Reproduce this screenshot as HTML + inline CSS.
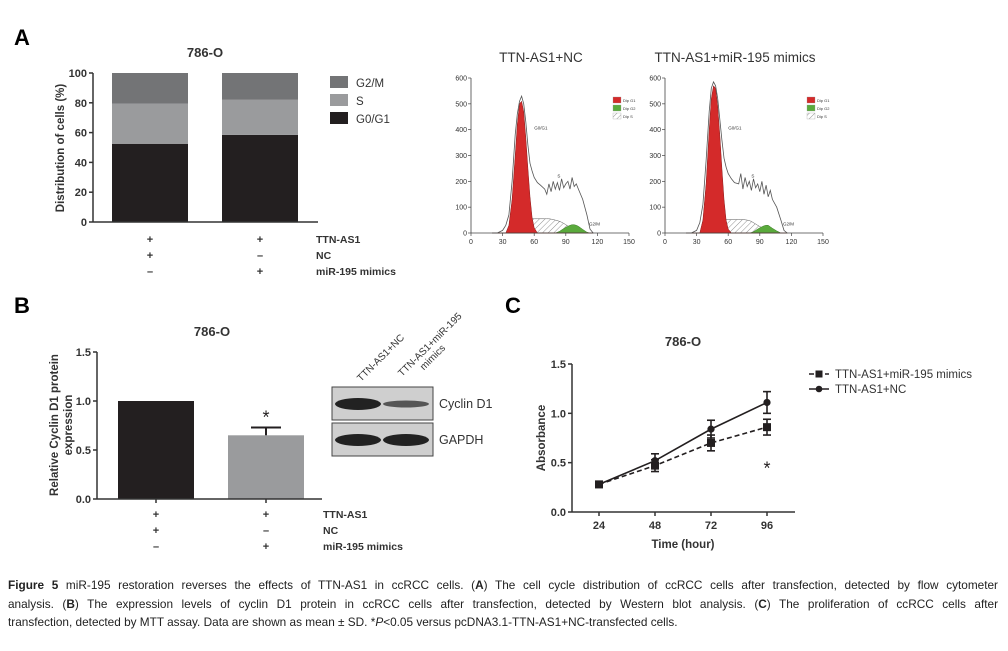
<!DOCTYPE html>
<html><head><meta charset="utf-8"><style>
body{margin:0;background:#fff;width:1008px;height:651px;overflow:hidden;font-family:"Liberation Sans",sans-serif}
#cap{position:absolute;left:8px;top:576px;width:990px;font-size:11.8px;line-height:18.5px;color:#222}
#cap div{text-align:justify;text-align-last:justify;white-space:nowrap}
#cap div.last{text-align-last:left}
svg text{font-family:"Liberation Sans",sans-serif}
</style></head><body>
<svg id="fig" width="1008" height="651" style="position:absolute;left:0;top:0">
<g id="A"></g><g id="F"></g><g id="B"></g><g id="C"></g>
</svg>
<div id="cap">
<div style="white-space:normal"><b>Figure 5</b> miR-195 restoration reverses the effects of TTN-AS1 in ccRCC cells. (<b>A</b>) The cell cycle distribution of ccRCC cells after transfection, detected by flow cytometer</div>
<div style="white-space:normal">analysis. (<b>B</b>) The expression levels of cyclin D1 protein in ccRCC cells after transfection, detected by Western blot analysis. (<b>C</b>) The proliferation of ccRCC cells after</div>
<div class="last">transfection, detected by MTT assay. Data are shown as mean ± SD. *<i>P</i>&lt;0.05 versus pcDNA3.1-TTN-AS1+NC-transfected cells.</div>
</div>
<script>
// Panel A data
const aGroups=["TTN-AS1+NC","TTN-AS1+miR-195 mimics"];
const aG1=[52.5,58.5];
const aS=[27,23.5];
const aG2M=[20.5,18];
const aTicks=[0,20,40,60,80,100];
// Panel B data
const bValues=[1.0,0.65];
const bErr=[0,0.08];
const bTicks=[0,0.5,1.0,1.5];
// Panel C data
const cHours=[24,48,72,96];
const cNC=[0.28,0.52,0.84,1.11];
const cNCerr=[0.03,0.07,0.09,0.11];
const cMim=[0.28,0.47,0.70,0.86];
const cMimErr=[0.03,0.06,0.08,0.08];
const cTicks=[0,0.5,1.0,1.5];
// Flow histogram data (channel, count)
const fChan=[20,25,30,33,36,39,42,44,46,48,50,52,54,56,58,60,63,66,70,72,74,76,78,80,82,84,86,88,90,92,94,96,98,100,102,106,110,113,116];
const fNCTotal=[0,0,10,30,70,200,380,460,510,530,500,430,340,270,240,215,195,185,170,150,190,160,200,170,195,165,210,175,190,200,170,215,180,190,170,130,70,15,0];
const fMimTotal=[0,0,10,40,110,280,470,560,585,570,520,440,360,290,255,230,210,195,190,230,170,215,180,200,165,210,175,190,160,200,150,185,140,165,130,100,50,10,0];
const fNCG1=[0,0,0,0,30,130,300,420,500,510,470,370,250,140,60,20,0,0,0,0,0,0,0,0,0,0,0,0,0,0,0,0,0,0,0,0,0,0,0];
const fMimG1=[0,0,0,0,50,190,400,520,570,560,490,380,250,130,50,15,0,0,0,0,0,0,0,0,0,0,0,0,0,0,0,0,0,0,0,0,0,0,0];
const fNCS=[0,0,0,0,0,0,0,5,15,30,45,55,55,55,55,55,55,55,55,55,55,54,52,50,48,45,42,37,32,27,22,17,12,8,5,0,0,0,0];
const fMimS=[0,0,0,0,0,0,0,5,15,30,45,52,52,52,52,52,52,52,52,52,52,51,50,48,45,40,35,30,25,20,15,11,8,5,3,0,0,0,0];
const fNCG2=[0,0,0,0,0,0,0,0,0,0,0,0,0,0,0,0,0,0,0,0,0,0,0,0,3,6,12,17,22,26,30,32,32,30,26,14,3,0,0];
const fMimG2=[0,0,0,0,0,0,0,0,0,0,0,0,0,0,0,0,0,0,0,0,0,0,0,0,2,5,10,15,20,24,28,30,30,24,18,8,0,0,0];
const fXTicks=[0,30,60,90,120,150];
const fYTicks=[0,100,200,300,400,500,600];

const NS="http://www.w3.org/2000/svg";
function mk(p,tag,attrs,txt){const e=document.createElementNS(NS,tag);for(const k in attrs)e.setAttribute(k,attrs[k]);if(txt!==undefined)e.textContent=txt;p.appendChild(e);return e;}
const svg=document.getElementById('fig');
const defs=mk(svg,'defs',{});
const pat=mk(defs,'pattern',{id:'hatch',width:4,height:4,patternUnits:'userSpaceOnUse',patternTransform:'rotate(45)'});
mk(pat,'line',{x1:0,y1:0,x2:0,y2:4,stroke:'#777','stroke-width':0.8});

// ---------- Panel A ----------
const A=document.getElementById('A');
let t=mk(A,'text',{x:14,y:45,'font-size':22,'font-weight':'bold'},'A');

t=mk(A,'text',{x:205,y:57,'font-size':13,'font-weight':'bold','text-anchor':'middle',fill:'#333'},'786-O');

const aX0=93,aY0=222,aY1=73;
const ay=v=>aY0-(v/100)*(aY0-aY1);
const aBarX=[112,222],aBarW=76;
aGroups.forEach((g,i)=>{
  const segs=[[0,aG1[i],'#231f20','g0g1'],[aG1[i],aG1[i]+aS[i],'#9a9b9d','s'],[aG1[i]+aS[i],aG1[i]+aS[i]+aG2M[i],'#737476','g2m']];
  segs.forEach(s=>{const r=mk(A,'rect',{x:aBarX[i],y:ay(s[1]),width:aBarW,height:ay(s[0])-ay(s[1]),fill:s[2]});
    });
});
mk(A,'line',{x1:aX0,y1:aY1,x2:aX0,y2:aY0,stroke:'#333','stroke-width':1.5});
mk(A,'line',{x1:aX0,y1:aY0,x2:318,y2:aY0,stroke:'#333','stroke-width':1.5});
aTicks.forEach(v=>{mk(A,'line',{x1:aX0-4,y1:ay(v),x2:aX0,y2:ay(v),stroke:'#333','stroke-width':1.5});
  const tt=mk(A,'text',{x:aX0-6,y:ay(v)+4,'font-size':11,'font-weight':'bold','text-anchor':'end',fill:'#333'},v);
  });
t=mk(A,'text',{transform:'translate(64,148) rotate(-90)','font-size':11.5,'font-weight':'bold','text-anchor':'middle',fill:'#333'},'Distribution of cells (%)');

[['G2/M','#737476'],['S','#9a9b9d'],['G0/G1','#231f20']].forEach((l,i)=>{
  const g=mk(A,'g',{});
  mk(g,'rect',{x:330,y:76+i*18,width:18,height:12,fill:l[1]});
  mk(g,'text',{x:356,y:87+i*18,'font-size':11.5,fill:'#333'},l[0]);});
function condRows(p,xs,y0,rows){
  rows.forEach((r,j)=>{r[0].forEach((s,i)=>mk(p,'text',{x:xs[i],y:y0+j*16,'font-size':11,'font-weight':'bold','text-anchor':'middle',fill:'#333'},s));
    const lt=mk(p,'text',{x:r[2],y:y0+j*16,'font-size':10.5,'font-weight':'bold',fill:'#333'},r[1]);
    });
}
condRows(A,[150,260],243,[[['+','+'],'TTN-AS1',316],[['+','–'],'NC',316],[['–','+'],'miR-195 mimics',316]]);

// ---------- Flow histograms ----------
const F=document.getElementById('F');
function flow(x0,title,tot,g1,s,g2){
  const g=mk(F,'g',{});
  const W=158,y0=233,H=155;
  const fx=v=>x0+v/150*W, fy=c=>y0-c/600*H;
  const tt=mk(g,'text',{x:x0+70,y:62,'font-size':13.5,'text-anchor':'middle',fill:'#333'},title);
  
  const path=arr=>fChan.map((c,i)=>(i?'L':'M')+fx(c).toFixed(1)+','+fy(arr[i]).toFixed(1)).join('');
  mk(g,'path',{d:path(s)+'Z',fill:'url(#hatch)',stroke:'#555','stroke-width':0.5});
  mk(g,'path',{d:path(g2)+'Z',fill:'#5aaa3c',stroke:'#3c7a28','stroke-width':0.5});
  mk(g,'path',{d:path(g1)+'Z',fill:'#d42a2a',stroke:'#8a1a1a','stroke-width':0.5});
  mk(g,'path',{d:path(tot),fill:'none',stroke:'#555','stroke-width':0.8});
  mk(g,'line',{x1:x0,y1:fy(600),x2:x0,y2:y0,stroke:'#444','stroke-width':0.8});
  mk(g,'line',{x1:x0,y1:y0,x2:x0+W,y2:y0,stroke:'#444','stroke-width':0.8});
  fYTicks.forEach(v=>{mk(g,'line',{x1:x0-3,y1:fy(v),x2:x0,y2:fy(v),stroke:'#444','stroke-width':0.7});
    mk(g,'text',{x:x0-4,y:fy(v)+2.5,'font-size':7,'text-anchor':'end',fill:'#333'},v);});
  fXTicks.forEach(v=>{mk(g,'line',{x1:fx(v),y1:y0,x2:fx(v),y2:y0+3,stroke:'#444','stroke-width':0.7});
    mk(g,'text',{x:fx(v),y:y0+11,'font-size':7,'text-anchor':'middle',fill:'#333'},v);});
  mk(g,'text',{x:fx(60),y:fy(400),'font-size':4.5,fill:'#333'},'G0/G1');
  mk(g,'text',{x:fx(82),y:fy(215),'font-size':4.5,fill:'#333'},'S');
  mk(g,'text',{x:fx(112),y:fy(30),'font-size':4.5,fill:'#333'},'G2/M');
  [['#d42a2a','Dip G1'],['#5aaa3c','Dip G2'],['url(#hatch)','Dip S']].forEach((l,i)=>{
    mk(g,'rect',{x:x0+142,y:97+i*8,width:8,height:6,fill:l[0],stroke:'#999','stroke-width':0.3});
    mk(g,'text',{x:x0+152,y:102+i*8,'font-size':4,fill:'#333'},l[1]);});
}
flow(471,'TTN-AS1+NC',fNCTotal,fNCG1,fNCS,fNCG2);
flow(665,'TTN-AS1+miR-195 mimics',fMimTotal,fMimG1,fMimS,fMimG2);

// ---------- Panel B ----------
const B=document.getElementById('B');
t=mk(B,'text',{x:14,y:313,'font-size':22,'font-weight':'bold'},'B');

t=mk(B,'text',{x:212,y:336,'font-size':13,'font-weight':'bold','text-anchor':'middle',fill:'#333'},'786-O');

const bX0=97,bY0=499,bY1=352;
const by=v=>bY0-(v/1.5)*(bY0-bY1);
const bBarX=[118,228],bCols=['#231f20','#9a9b9d'];
bValues.forEach((v,i)=>{
  const r=mk(B,'rect',{x:bBarX[i],y:by(v),width:76,height:bY0-by(v),fill:bCols[i]});
  
  if(bErr[i]>0){const cx=bBarX[i]+38;
    mk(B,'line',{x1:cx,y1:by(v),x2:cx,y2:by(v+bErr[i]),stroke:'#231f20','stroke-width':2});
    mk(B,'line',{x1:cx-15,y1:by(v+bErr[i]),x2:cx+15,y2:by(v+bErr[i]),stroke:'#231f20','stroke-width':2});
    const st=mk(B,'text',{x:cx,y:by(v+bErr[i])-4,'font-size':18,'text-anchor':'middle',fill:'#231f20'},'*');
    }
});
mk(B,'line',{x1:bX0,y1:bY1,x2:bX0,y2:bY0,stroke:'#333','stroke-width':1.5});
mk(B,'line',{x1:bX0,y1:bY0,x2:322,y2:bY0,stroke:'#333','stroke-width':1.5});
bTicks.forEach(v=>{mk(B,'line',{x1:bX0-4,y1:by(v),x2:bX0,y2:by(v),stroke:'#333','stroke-width':1.5});
  const tt=mk(B,'text',{x:bX0-6,y:by(v)+4,'font-size':11,'font-weight':'bold','text-anchor':'end',fill:'#333'},v.toFixed(1));
  });
[156,266].forEach(x=>mk(B,'line',{x1:x,y1:bY0,x2:x,y2:bY0+4,stroke:'#333','stroke-width':1.5}));
t=mk(B,'text',{transform:'translate(58,425) rotate(-90)','font-size':11.5,'font-weight':'bold','text-anchor':'middle',fill:'#333'});
mk(t,'tspan',{x:0,dy:0},'Relative Cyclin D1 protein');mk(t,'tspan',{x:0,dy:14},'expression');

condRows(B,[156,266],518,[[['+','+'],'TTN-AS1',323],[['+','–'],'NC',323],[['–','+'],'miR-195 mimics',323]]);
// blot
const blot=mk(B,'g',{});
[[387,'Cyclin D1'],[423,'GAPDH']].forEach((b,i)=>{
  mk(blot,'rect',{x:332,y:b[0],width:101,height:33,fill:'#cfcfcf',stroke:'#444','stroke-width':1});
  mk(blot,'ellipse',{cx:358,cy:b[0]+17,rx:23,ry:6,fill:'#222'});
  mk(blot,'ellipse',{cx:406,cy:b[0]+17,rx:23,ry:i?6:3.5,fill:i?'#222':'#555'});
  mk(blot,'text',{x:439,y:b[0]+21,'font-size':12.5,fill:'#333'},b[1]);});
mk(blot,'text',{transform:'translate(361,382) rotate(-45)','font-size':10,fill:'#333'},'TTN-AS1+NC');
t=mk(blot,'text',{transform:'translate(402,377) rotate(-45)','font-size':10,fill:'#333'});
mk(t,'tspan',{x:0,dy:0},'TTN-AS1+miR-195');mk(t,'tspan',{x:20,dy:11},'mimics');

// ---------- Panel C ----------
const C=document.getElementById('C');
t=mk(C,'text',{x:505,y:313,'font-size':22,'font-weight':'bold'},'C');

t=mk(C,'text',{x:683,y:346,'font-size':13,'font-weight':'bold','text-anchor':'middle',fill:'#333'},'786-O');

const cX0=572,cY0=512,cY1=364;
const cx=h=>599+(h-24)/24*56, cy=v=>cY0-(v/1.5)*(cY0-cY1);
mk(C,'line',{x1:cX0,y1:cY1,x2:cX0,y2:cY0,stroke:'#333','stroke-width':1.5});
mk(C,'line',{x1:cX0,y1:cY0,x2:795,y2:cY0,stroke:'#333','stroke-width':1.5});
cTicks.forEach(v=>{mk(C,'line',{x1:cX0-4,y1:cy(v),x2:cX0,y2:cy(v),stroke:'#333','stroke-width':1.5});
  const tt=mk(C,'text',{x:cX0-6,y:cy(v)+4,'font-size':11,'font-weight':'bold','text-anchor':'end',fill:'#333'},v.toFixed(1));
  });
cHours.forEach(h=>{mk(C,'line',{x1:cx(h),y1:cY0,x2:cx(h),y2:cY0+4,stroke:'#333','stroke-width':1.5});
  const tt=mk(C,'text',{x:cx(h),y:cY0+17,'font-size':11,'font-weight':'bold','text-anchor':'middle',fill:'#333'},h);
  });
t=mk(C,'text',{x:683,y:548,'font-size':11.5,'font-weight':'bold','text-anchor':'middle',fill:'#333'},'Time (hour)');

t=mk(C,'text',{transform:'translate(545,438) rotate(-90)','font-size':11.5,'font-weight':'bold','text-anchor':'middle',fill:'#333'},'Absorbance');

function series(vals,errs,dash,marker,name){
  const g=mk(C,'g',{});
  mk(g,'polyline',{points:cHours.map((h,i)=>cx(h)+','+cy(vals[i])).join(' '),fill:'none',stroke:'#231f20','stroke-width':1.6,'stroke-dasharray':dash});
  cHours.forEach((h,i)=>{const x=cx(h);
    mk(g,'line',{x1:x,y1:cy(vals[i]-errs[i]),x2:x,y2:cy(vals[i]+errs[i]),stroke:'#231f20','stroke-width':1.6});
    [vals[i]-errs[i],vals[i]+errs[i]].forEach(e=>mk(g,'line',{x1:x-4,y1:cy(e),x2:x+4,y2:cy(e),stroke:'#231f20','stroke-width':1.6}));
    if(marker==='sq')mk(g,'rect',{x:x-4,y:cy(vals[i])-4,width:8,height:8,fill:'#231f20'});
    else mk(g,'circle',{cx:x,cy:cy(vals[i]),r:3.6,fill:'#231f20'});});
}
series(cMim,cMimErr,'5,3','sq','series-mimics');
series(cNC,cNCerr,'none','circ','series-nc');
t=mk(C,'text',{x:cx(96),y:cy(0.5)+12,'font-size':18,'text-anchor':'middle',fill:'#231f20'},'*');

[['5,3','sq','TTN-AS1+miR-195 mimics'],['none','circ','TTN-AS1+NC']].forEach((l,i)=>{
  const g=mk(C,'g',{});
  const y=374+i*15;
  mk(g,'line',{x1:809,y1:y,x2:829,y2:y,stroke:'#231f20','stroke-width':1.6,'stroke-dasharray':l[0]});
  if(l[1]==='sq')mk(g,'rect',{x:815.5,y:y-3.5,width:7,height:7,fill:'#231f20'});else mk(g,'circle',{cx:819,cy:y,r:3.3,fill:'#231f20'});
  mk(g,'text',{x:835,y:y+4,'font-size':11.5,fill:'#333'},l[2]);});
</script>
</body></html>
